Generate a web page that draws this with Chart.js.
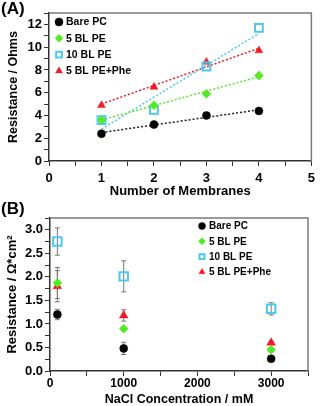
<!DOCTYPE html>
<html>
<head>
<meta charset="utf-8">
<script src="https://cdn.jsdelivr.net/npm/chart.js@4.4.0/dist/chart.umd.min.js"></script>
<style>
  html, body { margin: 0; padding: 0; background: #fff; }
  #wrap { position: relative; width: 320px; height: 406px; }
  canvas { position: absolute; left: 0; }
  #chartA { top: 0; }
  #chartB { top: 200px; }
</style>
</head>
<body>
<div id="wrap">
  <canvas id="chartA" width="320" height="200"></canvas>
  <canvas id="chartB" width="320" height="206"></canvas>
</div>
<script>
// ===== DATA =====
const seriesNames = ['Bare PC', '5 BL PE', '10 BL PE', '5 BL PE+Phe'];

// panel A: resistance vs number of membranes
const membranes = [1, 2, 3, 4];
const bareA = [2.4, 3.2, 4.0, 4.4];
const bl5A = [3.6, 4.9, 5.9, 7.5];
const bl10A = [3.6, 4.5, 8.3, 11.7];
const pheA = [4.9, 6.5, 8.7, 9.7];
// dotted trend lines, ends read at x = 1 and x = 4
const trendX = [1, 4];
const bareTrend = [2.5, 4.5];
const bl5Trend = [3.6, 7.4];
const bl10Trend = [2.8, 11.2];
const pheTrend = [5.0, 9.9];

// panel B: area resistance vs NaCl concentration
const nacl = [100, 1000, 3000];
const bareB = [1.2, 0.48, 0.26];
const bareErrB = [0.11, 0.13, 0.04];
const bl5B = [1.87, 0.9, 0.45];
const bl5ErrB = [0.33, 0.03, 0.04];
const bl10B = [2.75, 2.01, 1.32];
const bl10ErrB = [0.29, 0.33, 0.13];
const pheB = [1.8, 1.18, 0.6];
const pheErrB = [0.33, 0.12, 0.03];

// ===== STYLE =====
const FONT = "'Liberation Sans', Arial, sans-serif";
const colors = ['#000000', '#55e825', '#4cc8f0', '#ee1c24'];
const styles = ['circle', 'rectRot', 'rect', 'triangle'];
const axisColor = '#333';

const pts = (xs, ys) => xs.map((x, i) => ({ x: x, y: ys[i] }));

function marker(ctx, i, x, y, r) {
  ctx.save();
  ctx.fillStyle = i === 2 ? 'rgba(0,0,0,0)' : colors[i];
  ctx.strokeStyle = colors[i];
  ctx.lineWidth = i === 2 ? 2 : 0.5;
  const opts = { pointStyle: styles[i], radius: r, borderWidth: ctx.lineWidth, rotation: 0 };
  Chart.helpers.drawPoint(ctx, opts, x, y);
  ctx.restore();
}

// gray box on top and right of the plot
const framePlugin = {
  id: 'frame',
  afterDraw(chart) {
    const { ctx, chartArea: a } = chart;
    ctx.save();
    ctx.strokeStyle = '#7a7a7a';
    ctx.lineWidth = 1.5;
    ctx.beginPath();
    ctx.moveTo(a.left, a.top); ctx.lineTo(a.right, a.top); ctx.lineTo(a.right, a.bottom);
    ctx.stroke();
    ctx.restore();
  }
};

// panel letter + legend inside the plot
function labelPlugin(letter, lx, ly, rowH, fontSize, r) {
  return {
    id: 'labels' + letter,
    afterDraw(chart) {
      const { ctx, chartArea: a } = chart;
      ctx.save();
      ctx.fillStyle = '#000';
      ctx.font = 'bold 17px ' + FONT;
      ctx.textBaseline = 'top';
      ctx.textAlign = 'left';
      ctx.fillText('(' + letter + ')', 1, 1);
      ctx.font = 'bold ' + fontSize + 'px ' + FONT;
      ctx.textBaseline = 'middle';
      seriesNames.forEach((name, i) => {
        const y = a.top + ly + i * rowH;
        marker(ctx, i, a.left + lx, y, r);
        ctx.fillStyle = '#000';
        ctx.fillText(name, a.left + lx + 7, y + 0.5);
      });
      ctx.restore();
    }
  };
}

// vertical error bars for panel B, drawn under the markers
const errorBarPlugin = {
  id: 'errBars',
  beforeDatasetsDraw(chart) {
    const { ctx, scales: { x, y } } = chart;
    ctx.save();
    ctx.strokeStyle = '#777';
    ctx.lineWidth = 1;
    chart.data.datasets.forEach(ds => {
      if (!ds.err) return;
      ds.data.forEach((p, i) => {
        const px = x.getPixelForValue(p.x);
        const top = y.getPixelForValue(p.y + ds.err[i]);
        const bot = y.getPixelForValue(p.y - ds.err[i]);
        ctx.beginPath();
        ctx.moveTo(px, top); ctx.lineTo(px, bot);
        ctx.moveTo(px - 2.5, top); ctx.lineTo(px + 2.5, top);
        ctx.moveTo(px - 2.5, bot); ctx.lineTo(px + 2.5, bot);
        ctx.stroke();
      });
    });
    ctx.restore();
  }
};

function axis(opts) {
  return Object.assign({
    type: 'linear',
    border: { display: true, color: axisColor, width: 1.5 },
    grid: { drawOnChartArea: false, drawTicks: true, tickLength: 5, color: axisColor, lineWidth: 1 },
  }, opts);
}

Chart.defaults.font.family = FONT;
Chart.defaults.color = '#000';

// ===== PANEL A =====
const pointSetsA = [bareA, bl5A, bl10A, pheA];
const trendSetsA = [bareTrend, bl5Trend, bl10Trend, pheTrend];
const radiiA = [4, 4.5, 5.5, 4.5];

new Chart(document.getElementById('chartA'), {
  type: 'scatter',
  data: {
    datasets: [
      ...pointSetsA.map((ys, i) => ({
        label: seriesNames[i], data: pts(membranes, ys), order: 1,
        pointStyle: styles[i], pointRadius: radiiA[i],
        backgroundColor: i === 2 ? 'rgba(0,0,0,0)' : colors[i],
        borderColor: colors[i], pointBorderWidth: i === 2 ? 2 : 0.5
      })),
      ...trendSetsA.map((ys, i) => ({
        label: seriesNames[i] + ' trend', data: pts(trendX, ys), order: 2,
        showLine: true, pointRadius: 0, borderColor: i === 0 ? '#222' : colors[i],
        borderWidth: 1.5, borderDash: [2, 2]
      }))
    ]
  },
  options: {
    responsive: false, animation: false, devicePixelRatio: 1,
    layout: { padding: { top: 13, right: 5, left: 0, bottom: 0 } },
    plugins: { legend: { display: false }, tooltip: { enabled: false } },
    scales: {
      x: axis({
        min: 0, max: 5,
        ticks: { stepSize: 0.5, padding: 5, font: { size: 13, weight: 'bold' }, maxRotation: 0, autoSkip: false,
          callback: v => Number.isInteger(v) ? String(v) : '' },
        title: { display: true, text: 'Number of Membranes', font: { size: 13, weight: 'bold' }, padding: { top: 0, bottom: 1 } },
        afterFit: s => { s.height = 39; }
      }),
      y: axis({
        min: 0, max: 13,
        ticks: { stepSize: 1, padding: 2, font: { size: 13, weight: 'bold' }, autoSkip: false,
          callback: v => v % 2 === 0 ? String(v) : '' },
        title: { display: true, text: 'Resistance / Ohms', font: { size: 12.5, weight: 'bold' }, padding: { top: 6, bottom: 0 } },
        afterFit: s => { s.width = 49; }
      })
    }
  },
  plugins: [framePlugin, labelPlugin('A', 10, 9, 16.3, 10.5, 4)]
});

// ===== PANEL B =====
const pointSetsB = [bareB, bl5B, bl10B, pheB];
const errSetsB = [bareErrB, bl5ErrB, bl10ErrB, pheErrB];
const radiiB = [4, 4.5, 6, 5];

new Chart(document.getElementById('chartB'), {
  type: 'scatter',
  data: {
    datasets: pointSetsB.map((ys, i) => ({
      label: seriesNames[i], data: pts(nacl, ys), err: errSetsB[i],
      pointStyle: styles[i], pointRadius: radiiB[i],
      backgroundColor: i === 2 ? 'rgba(0,0,0,0)' : colors[i],
      borderColor: colors[i], pointBorderWidth: i === 2 ? 2 : 0.5
    }))
  },
  options: {
    responsive: false, animation: false, devicePixelRatio: 1,
    layout: { padding: { top: 18, right: 12, left: 0, bottom: 0 } },
    plugins: { legend: { display: false }, tooltip: { enabled: false } },
    scales: {
      x: axis({
        min: 0, max: 3500,
        ticks: { stepSize: 500, padding: 0, font: { size: 12, weight: 'bold' }, maxRotation: 0, autoSkip: false,
          callback: v => v % 1000 === 0 ? String(v) : '' },
        title: { display: true, text: 'NaCl Concentration / mM', font: { size: 12.5, weight: 'bold' }, padding: { top: 0, bottom: -1 } },
        afterFit: s => { s.height = 35; }
      }),
      y: axis({
        min: 0, max: 3.25,
        ticks: { stepSize: 0.25, padding: 2, font: { size: 13, weight: 'bold' }, autoSkip: false,
          callback: v => Math.abs(v * 2 - Math.round(v * 2)) < 1e-6 ? v.toFixed(1) : '' },
        title: { display: true, text: 'Resistance / Ω*cm²', font: { size: 13, weight: 'bold' }, padding: { top: 5, bottom: 0 } },
        afterFit: s => { s.width = 50; }
      })
    }
  },
  plugins: [errorBarPlugin, framePlugin, labelPlugin('B', 152, 8, 15.3, 10, 3.5)]
});
</script>
</body>
</html>
